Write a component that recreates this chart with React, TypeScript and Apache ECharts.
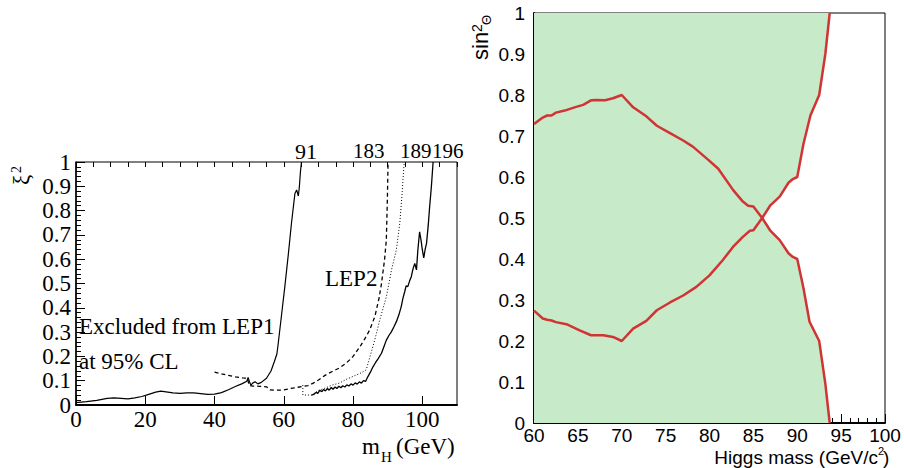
import React, { useEffect, useRef } from "react";
import * as echarts from "echarts";

// ---- Left panel: xi^2 limits vs m_H (GeV) ----
const lep91: [number, number][] = [
  [0, 0.01], [3, 0.014], [6, 0.019], [9, 0.027], [11, 0.029], [13, 0.027], [15, 0.025],
  [17, 0.029], [19, 0.035], [21, 0.044], [23, 0.053], [24.5, 0.057], [26, 0.054], [28, 0.05],
  [30, 0.048], [32, 0.05], [34, 0.05], [36, 0.047], [38, 0.044], [40, 0.045], [42, 0.051],
  [44, 0.063], [46, 0.076], [48, 0.088], [49.3, 0.098], [49.7, 0.113], [50.1, 0.095],
  [50.5, 0.082], [51, 0.09], [51.7, 0.096], [52.5, 0.087], [53.5, 0.093], [55, 0.11],
  [56.3, 0.14], [57.3, 0.18], [58, 0.21], [58.4, 0.255], [59.3, 0.365], [60.3, 0.488],
  [61.3, 0.62], [62.2, 0.747], [63.2, 0.87], [63.7, 0.885], [64.2, 0.86], [64.5, 0.9],
  [64.8, 0.96], [65.1, 1.0],
];
const lep183: [number, number][] = [
  [40, 0.135], [42, 0.128], [44, 0.122], [46, 0.116], [48, 0.112], [49.5, 0.11], [50, 0.08],
  [51, 0.078], [53, 0.077], [55, 0.075], [56, 0.062], [58, 0.061], [60, 0.062], [62, 0.068],
  [64, 0.073], [65.5, 0.077], [67, 0.08], [68.5, 0.09], [70, 0.103], [72, 0.123], [74, 0.138],
  [76, 0.152], [78, 0.172], [80, 0.2], [82, 0.24], [83.5, 0.275], [84.8, 0.309], [86.3, 0.365],
  [87.5, 0.44], [88.2, 0.5], [89.1, 0.6], [89.6, 0.68], [89.9, 0.85], [90.1, 1.0],
];
const lep189: [number, number][] = [
  [65.5, 0.082], [65.5, 0.041], [68, 0.041], [69, 0.05], [70, 0.06], [72, 0.07], [74, 0.082],
  [76, 0.09], [78, 0.105], [80, 0.118], [82, 0.13], [83.8, 0.145], [84.8, 0.195], [86.3, 0.27],
  [87.7, 0.35], [89.6, 0.445], [91.1, 0.556], [92.5, 0.64], [93.5, 0.75], [94.2, 0.88],
  [94.6, 0.97], [94.8, 1.0],
];
const lep196: [number, number][] = [
  [68, 0.041], [68.8, 0.045], [69.3, 0.052], [69.8, 0.048], [70.4, 0.06], [71, 0.055],
  [71.5, 0.064], [72, 0.058], [72.6, 0.068], [73.1, 0.061], [73.7, 0.072], [74.2, 0.065],
  [74.8, 0.074], [75.3, 0.068], [75.9, 0.077], [76.5, 0.071], [77, 0.079], [77.6, 0.074],
  [78.2, 0.083], [78.8, 0.078], [79.4, 0.087], [80, 0.082], [80.6, 0.091], [81.2, 0.086],
  [81.8, 0.095], [82.4, 0.09], [83, 0.1], [83.6, 0.097], [84.2, 0.115], [85, 0.135],
  [85.7, 0.156], [86.5, 0.175], [87.2, 0.19], [88.2, 0.213], [88.9, 0.24], [89.6, 0.267],
  [90.3, 0.285], [91, 0.3], [91.8, 0.322], [92.5, 0.343], [93.2, 0.37], [93.9, 0.405],
  [94.4, 0.44], [94.9, 0.466], [95.3, 0.49], [95.8, 0.487], [96.3, 0.51], [96.8, 0.528],
  [97.3, 0.56], [97.8, 0.583], [98.3, 0.556], [98.7, 0.638], [99.2, 0.713], [99.6, 0.68],
  [100, 0.638], [100.4, 0.605], [100.8, 0.64], [101.2, 0.665], [101.7, 0.74], [102.1, 0.816],
  [102.6, 0.898], [103.1, 1.0],
];

// ---- Right panel: sin^2(theta) exclusions vs Higgs mass (GeV/c^2) ----
const sExclusion: [number, number][] = [
  [60, 0.729], [61, 0.745], [61.5, 0.75], [62, 0.75], [62.5, 0.757], [63.5, 0.762],
  [64.8, 0.771], [65.6, 0.776], [66.5, 0.787], [67.1, 0.788], [68.1, 0.787], [69, 0.792],
  [70, 0.8], [71.3, 0.77], [72.8, 0.748], [74, 0.725], [75.5, 0.707], [77, 0.689],
  [78.1, 0.674], [79.8, 0.643], [81, 0.62], [82.7, 0.568], [83.8, 0.54], [84.4, 0.53],
  [85, 0.528], [86, 0.5], [86.9, 0.47], [88, 0.446], [89, 0.414], [89.5, 0.405], [90, 0.4],
  [90.7, 0.33], [91.4, 0.247], [92.5, 0.2], [93.2, 0.096], [93.7, 0],
];
const hExclusion: [number, number][] = [
  [60, 0.274], [61, 0.255], [61.5, 0.252], [62, 0.25], [62.5, 0.246], [63.7, 0.241],
  [65.2, 0.226], [66.5, 0.214], [67.9, 0.214], [69, 0.21], [70, 0.2], [71.3, 0.23],
  [72.8, 0.249], [74, 0.275], [75.5, 0.294], [77, 0.311], [78.5, 0.332], [80, 0.36],
  [81.5, 0.397], [82.7, 0.43], [83.8, 0.454], [84.6, 0.469], [85, 0.47], [86, 0.5],
  [86.9, 0.53], [88, 0.552], [89, 0.586], [89.5, 0.595], [90, 0.6], [90.7, 0.68],
  [91.5, 0.75], [92.5, 0.8], [93.2, 0.9], [93.7, 1.0],
];

const SERIF = '"Liberation Serif", "Times New Roman", serif';
const SANS = '"Liberation Sans", Arial, sans-serif';
const BLUE = "#1c1ce8";
const RED = "#d13434";
const GREEN = "#c7eac8";

function txt(text: string, x: number, y: number, font: string, fill = "#000", align = "left") {
  return {
    type: "text",
    x,
    y,
    silent: true,
    style: { text, font, fill, align, verticalAlign: "middle", textAlign: align, textVerticalAlign: "middle" },
  };
}

export default function App() {
  const ref = useRef<HTMLDivElement>(null);
  useEffect(() => {
    const chart = echarts.init(ref.current!, null, { renderer: "svg" });
    const lineAxis = (w: number) => ({ show: true, lineStyle: { color: "#000", width: w } });
    chart.setOption({
      animation: false,
      backgroundColor: "#fff",
      grid: [
        { left: 76, top: 162, width: 381, height: 243, show: true, borderColor: "#000", borderWidth: 1, backgroundColor: "transparent" },
        { left: 534, top: 13, width: 351, height: 410, show: true, borderColor: "#000", borderWidth: 1, backgroundColor: "transparent" },
      ],
      xAxis: [
        {
          type: "value", gridIndex: 0, min: 0, max: 110, interval: 20,
          axisLine: lineAxis(2), splitLine: { show: false },
          axisTick: { inside: true, length: 9, lineStyle: { color: "#000" } },
          axisLabel: { fontFamily: SERIF, fontSize: 23, color: "#000", margin: 3, showMaxLabel: false },
        },
        {
          type: "value", gridIndex: 0, min: 0, max: 110, interval: 5,
          axisLine: { show: false }, splitLine: { show: false },
          axisTick: { inside: true, length: 5, lineStyle: { color: "#000" } },
          axisLabel: { show: false },
        },
        {
          type: "value", gridIndex: 1, min: 60, max: 100, interval: 5,
          axisLine: lineAxis(2), splitLine: { show: false },
          axisTick: { inside: true, length: 9, lineStyle: { color: "#000" } },
          minorTick: { show: true, splitNumber: 5, length: 5, lineStyle: { color: "#000" } },
          axisLabel: { fontFamily: SANS, fontSize: 19, color: "#000", margin: 3 },
        },
      ],
      yAxis: [
        {
          type: "value", gridIndex: 0, min: 0, max: 1, interval: 0.1,
          axisLine: lineAxis(1.5), splitLine: { show: false },
          axisTick: { inside: true, length: 9, lineStyle: { color: "#000" } },
          minorTick: { show: true, splitNumber: 5, length: 5, lineStyle: { color: "#000" } },
          axisLabel: { fontFamily: SERIF, fontSize: 23, color: "#000", margin: 5 },
        },
        {
          type: "value", gridIndex: 1, min: 0, max: 1, interval: 0.1,
          axisLine: lineAxis(2), splitLine: { show: false },
          axisTick: { inside: true, length: 9, lineStyle: { color: "#000" } },
          minorTick: { show: true, splitNumber: 5, length: 5, lineStyle: { color: "#000" } },
          axisLabel: { fontFamily: SANS, fontSize: 19, color: "#000", margin: 9 },
        },
      ],
      series: [
        { type: "line", name: "91", xAxisIndex: 0, yAxisIndex: 0, data: lep91, symbol: "none", lineStyle: { color: "#000", width: 1.2 } },
        { type: "line", name: "183", xAxisIndex: 0, yAxisIndex: 0, data: lep183, symbol: "none", lineStyle: { color: "#000", width: 1.3, type: [4, 3] } },
        { type: "line", name: "189", xAxisIndex: 0, yAxisIndex: 0, data: lep189, symbol: "none", lineStyle: { color: "#000", width: 1, type: [1, 2] } },
        { type: "line", name: "196", xAxisIndex: 0, yAxisIndex: 0, data: lep196, symbol: "none", lineStyle: { color: "#000", width: 1.3 } },
        { type: "line", name: "S fill", xAxisIndex: 2, yAxisIndex: 1, data: sExclusion, symbol: "none", lineStyle: { width: 0 }, areaStyle: { color: GREEN, opacity: 1, origin: "start" } },
        { type: "line", name: "H fill", xAxisIndex: 2, yAxisIndex: 1, data: hExclusion, symbol: "none", lineStyle: { width: 0 }, areaStyle: { color: GREEN, opacity: 1, origin: "end" } },
        { type: "line", name: "S-Exclusion", xAxisIndex: 2, yAxisIndex: 1, data: sExclusion, symbol: "none", lineStyle: { color: RED, width: 2.5 } },
        { type: "line", name: "H-Exclusion", xAxisIndex: 2, yAxisIndex: 1, data: hExclusion, symbol: "none", lineStyle: { color: RED, width: 2.5 } },
      ],
      graphic: [
        // left panel labels
        txt("91", 295, 151, `22px ${SERIF}`),
        txt("183", 353, 151, `21px ${SERIF}`),
        txt("189", 400, 151, `21px ${SERIF}`),
        txt("196", 432, 151, `21px ${SERIF}`),
        txt("LEP2", 325, 278, `23px ${SERIF}`),
        txt("Excluded from LEP1", 79, 326, `23px ${SERIF}`),
        txt("at 95% CL", 79, 361, `23px ${SERIF}`),
        txt("m", 362, 446, `23px ${SERIF}`),
        txt("H", 381, 457, `15px ${SERIF}`),
        txt("(GeV)", 396, 446, `23px ${SERIF}`),
        {
          type: "group", x: 21, y: 185, rotation: Math.PI / 2,
          children: [
            txt("ξ", 0, 0, `23px ${SERIF}`),
            txt("2", 12, -5, `14px ${SERIF}`),
          ],
        },
        // right panel labels
        txt("S-Exclusion", 656, 47, `19px ${SANS}`, BLUE),
        txt("95% CL", 656, 69, `19px ${SANS}`, BLUE),
        txt("DELPHI", 577, 211, `19.5px ${SANS}`, BLUE),
        txt("preliminary", 578, 234, `14.5px ${SANS}`, BLUE),
        txt("H-Exclusion", 656, 355, `19px ${SANS}`, BLUE),
        txt("95% CL", 656, 376, `19px ${SANS}`, BLUE),
        txt("Higgs mass (GeV/c", 878, 457, `19px ${SANS}`, "#000", "right"),
        txt("2", 878, 451, `11px ${SANS}`),
        txt(")", 883, 457, `19px ${SANS}`),
        {
          type: "group", x: 480, y: 60, rotation: Math.PI / 2,
          children: [
            txt("sin", 0, 0, `22px ${SANS}`),
            txt("2", 28, -3, `14px ${SANS}`),
            txt("Θ", 35, 6, `13px ${SANS}`),
          ],
        },
      ],
    });
    return () => chart.dispose();
  }, []);
  return <div ref={ref} style={{ position: "absolute", left: 0, top: 0, width: 904, height: 468 }} />;
}
